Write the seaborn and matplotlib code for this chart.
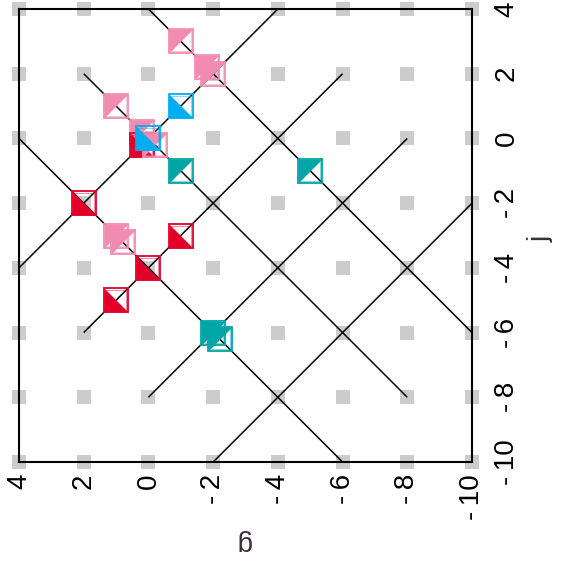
import matplotlib
matplotlib.use("Agg")
import matplotlib.pyplot as plt
import seaborn as sns
import numpy as np
import pandas as pd

# axis values (g runs along the bottom, j along the right)
tick_vals = [4, 2, 0, -2, -4, -6, -8, -10]

# black segments: start (g0, j0) -> end (g1, j1)
seg_g0 = [0, 2, 4, 4, 2, 0, -2]
seg_j0 = [4, 2, 0, -4, -6, -8, -10]
seg_g1 = [-10, -8, -6, -4, -6, -8, -10]
seg_j1 = [-6, -8, -10, 4, 2, 0, -2]

# points in drawing order
point_g = [-1, -1.8, -2, 1, 0.2, 2, -1, 0, 1, 0.2, -0.2, 1, 0.8, -1, 0, -1, -5, -2, -2.2]
point_j = [3, 2.2, 2, 1, 0.2, -2, -3, -4, -5, -0.2, -0.2, -3, -3.2, 1, 0, -1, -1, -6, -6.2]
point_grp = ["pink", "pink", "pink", "pink", "pink", "red", "red", "red", "red", "red",
             "pink", "pink", "pink", "blue", "blue", "teal", "teal", "teal", "teal"]

colours = {"pink": "#F18CB0", "red": "#E2002B", "blue": "#00AEEF", "teal": "#00A5A5"}
tri_up = [(-1, 1), (1, 1), (-1, -1)]     # filled top-left
tri_down = [(-1, 1), (-1, -1), (1, -1)]  # filled bottom-left
shapes = {"pink": tri_up, "teal": tri_up, "red": tri_down, "blue": tri_down}

sns.set_style("white")
plt.rcParams["font.family"] = ["Liberation Sans", "DejaVu Sans"]

fig = plt.figure(figsize=(5.61, 5.62), dpi=100)
ax = fig.add_axes([19 / 561, 100 / 562, 453 / 561, 453 / 562])

# grey squares at every tick crossing
gg, jj = np.meshgrid(tick_vals, tick_vals)
grid = pd.DataFrame({"g": gg.ravel(), "j": jj.ravel()})
sns.scatterplot(data=grid, x="g", y="j", marker="s", s=100, color="#CCCCCC",
                edgecolor="none", linewidth=0, clip_on=False, zorder=1, ax=ax)

for a, b, c, d in zip(seg_g0, seg_j0, seg_g1, seg_j1):
    ax.plot([a, c], [b, d], color="black", lw=1.1, zorder=2, solid_capstyle="butt")

z = 3
for g, j, k in zip(point_g, point_j, point_grp):
    col = colours[k]
    ax.plot([g], [j], marker=shapes[k], ms=17, mfc=col, mec="none", ls="none", zorder=z)
    ax.plot([g], [j], marker="s", ms=17, mfc="none", mec=col, mew=1.3, ls="none", zorder=z + 0.1)
    ax.plot([g], [j], marker="s", ms=14.6, mfc="none", mec=col, mew=0.8, alpha=0.45,
            ls="none", zorder=z + 0.2)
    z += 0.5

ax.set_xlim(4, -10)
ax.set_ylim(-10, 4)
labels = [str(v) if v >= 0 else "-\u2009" + str(-v) for v in tick_vals]
ax.set_xticks(tick_vals)
ax.set_xticklabels(labels, rotation=90, fontsize=20)
ax.yaxis.tick_right()
ax.set_yticks(tick_vals)
ax.set_yticklabels(labels, rotation=90, fontsize=20, va="center")
ax.tick_params(axis="x", bottom=True, length=3.5, width=0.8, pad=5, colors="black")
ax.tick_params(axis="y", right=True, left=False, length=3.5, width=0.8, pad=12, colors="black")

for sp in ax.spines.values():
    sp.set_visible(True)
    sp.set_color("black")
    sp.set_linewidth(1.5)
    sp.set_zorder(2.5)

ax.set_xlabel("g", rotation=180, fontsize=20, color="#3B2F3B", va="center", ha="center")
ax.xaxis.set_label_coords(0.494, -0.177)
ax.yaxis.set_label_position("right")
ax.set_ylabel("j", rotation=90, fontsize=20, color="#3B2F3B", va="center", ha="center")
ax.yaxis.set_label_coords(1.152, 0.492)

fig.savefig("out.png", dpi=100)
